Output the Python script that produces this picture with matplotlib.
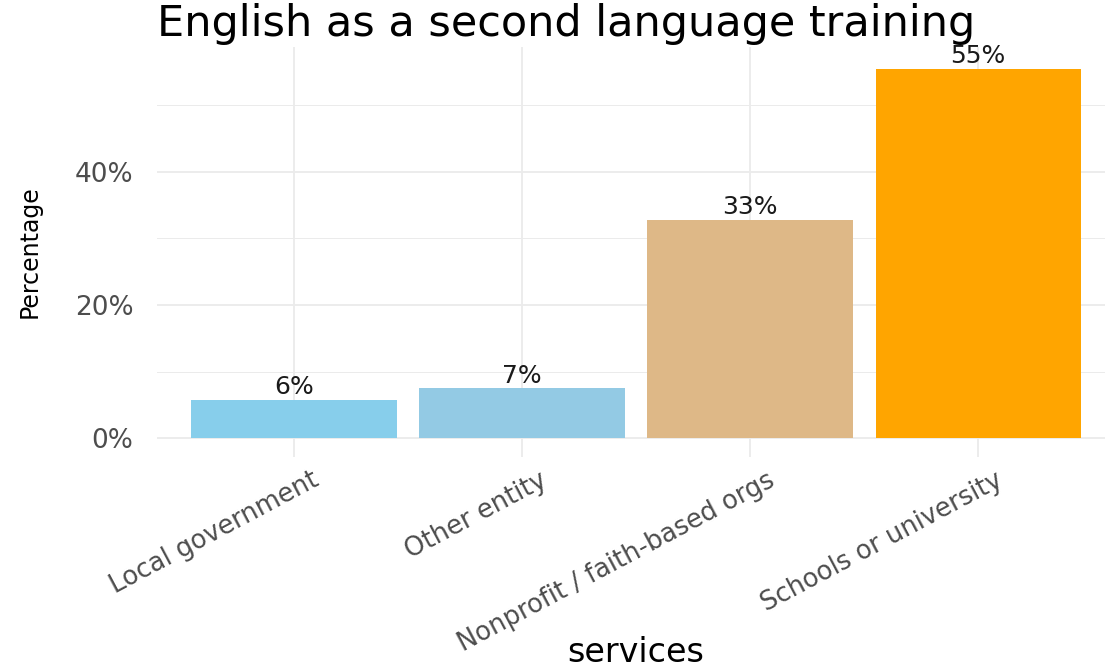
import matplotlib
matplotlib.use("Agg")
import matplotlib.pyplot as plt
import matplotlib.transforms as mtransforms
from matplotlib.ticker import FixedLocator, FuncFormatter

# data
services = ["Local government", "Other entity", "Nonprofit / faith-based orgs", "Schools or university"]
percent = [5.8, 7.5, 32.8, 55.4]
labels = ["6%", "7%", "33%", "55%"]
colors = ["#87CEEB", "#93CAE4", "#DEB887", "#FFA500"]

plt.rcParams['font.family'] = ['DejaVu Sans']

fig = plt.figure(figsize=(11.05, 6.68), dpi=100)
W, H = 1105, 668
left, right, top, bottom = 157, 1115, 47, 457
ax = fig.add_axes([left / W, 1 - bottom / H, (right - left) / W, (bottom - top) / H])

x = list(range(1, len(services) + 1))
ax.bar(x, percent, width=0.9, color=colors, zorder=2)
for xi, v, lab in zip(x, percent, labels):
    ax.text(xi, v + 0.1, lab, ha='center', va='bottom', fontsize=18, color='#1a1a1a')

ax.set_xlim(0.4, 4.6)
ax.set_ylim(-2.8, 58.7)

ax.yaxis.set_major_locator(FixedLocator([0, 20, 40]))
ax.yaxis.set_minor_locator(FixedLocator([10, 30, 50]))
ax.yaxis.set_major_formatter(FuncFormatter(lambda v, p: f"{v:.0f}%"))
ax.set_xticks(x)
ax.set_xticklabels([])
# category labels, angled and nudged right like ggplot's hjust=1
shift = mtransforms.ScaledTranslation(17 / 100, -10 / 100, fig.dpi_scale_trans)
for xi, name in zip(x, services):
    ax.text(xi, 0, name, transform=ax.get_xaxis_transform() + shift, rotation=28,
            ha='right', va='top', rotation_mode='anchor', fontsize=18.5, color='#4D4D4D')
for t in ax.get_yticklabels():
    t.set_fontsize(19)
    t.set_color('#4D4D4D')

ax.tick_params(axis='both', which='both', length=0)
ax.tick_params(axis='y', pad=17)
ax.grid(True, which='major', color='#EBEBEB', linewidth=1.3, zorder=0)
ax.grid(True, which='minor', axis='y', color='#EBEBEB', linewidth=0.7, zorder=0)
ax.set_axisbelow(True)
for s in ax.spines.values():
    s.set_visible(False)

ax.set_ylabel("Percentage", fontsize=17, color='black')
ax.yaxis.set_label_coords(-0.1205, 0.5)
ax.set_xlabel("services", fontsize=24, color='black', va='center')
ax.xaxis.set_label_coords(0.5, -(652 - bottom) / (bottom - top))
fig.text(left / W, 1 - 24 / H, "English as a second language training", fontsize=31,
         ha='left', va='center', color='black')

fig.savefig("out.png", dpi=100)
